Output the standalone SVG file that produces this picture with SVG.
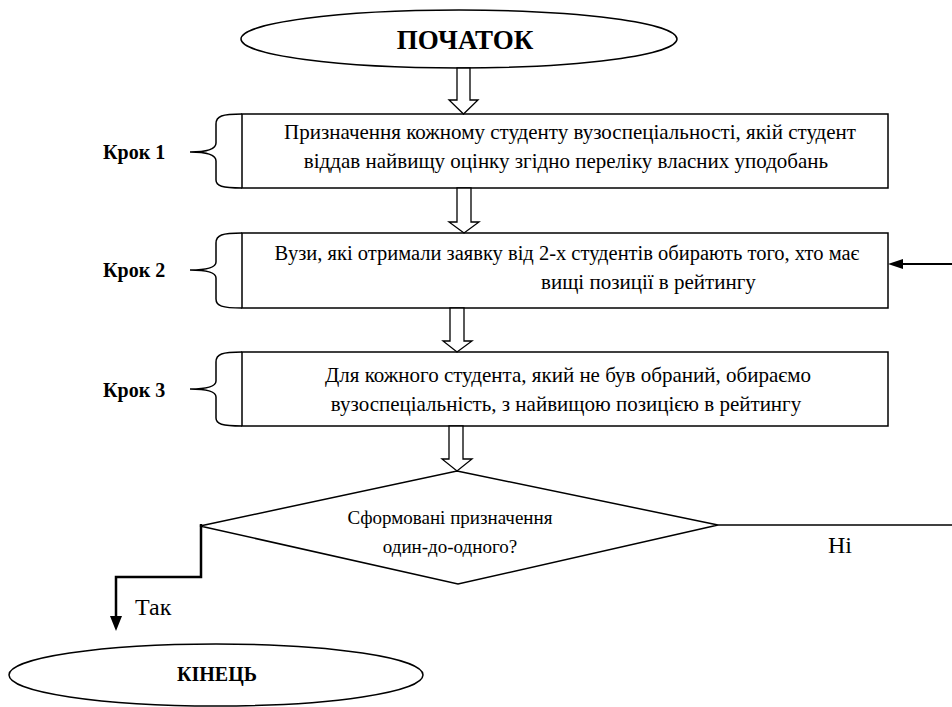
<svg xmlns="http://www.w3.org/2000/svg" width="952" height="707" viewBox="0 0 952 707">
<g id="start" stroke="#000" stroke-width="1.5" fill="#fff">
<ellipse cx="459" cy="39" rx="218" ry="29"/>
<text font-family="Liberation Serif" font-size="27" font-weight="bold" fill="#000" stroke="none" text-anchor="middle" x="465" y="49">ПОЧАТОК</text>
</g>
<g id="step1" stroke="#000" stroke-width="1.5" fill="#fff">
<path fill="none" d="M242,114 C222,114 216,116 216,124 L216,143 C216,150 205,152 190,152 C205,152 216,154 216,161 L216,180 C216,186 222,188 242,188"/>
<rect x="242" y="114" width="646" height="74"/>
<text font-family="Liberation Serif" font-size="20" font-weight="bold" fill="#000" stroke="none" x="103" y="159">Крок 1</text>
<text font-family="Liberation Serif" font-size="21" fill="#000" stroke="none" text-anchor="middle" x="570" y="139">Призначення кожному студенту вузоспеціальності, якій студент</text>
<text font-family="Liberation Serif" font-size="21" fill="#000" stroke="none" text-anchor="middle" x="566" y="168">віддав найвищу оцінку згідно переліку власних уподобань</text>
</g>
<g id="step2" stroke="#000" stroke-width="1.5" fill="#fff">
<path fill="none" d="M242,233 C222,233 216,235 216,243 L216,262 C216,268 205,270 190,270 C205,270 216,272 216,278 L216,299 C216,306 222,308 242,308"/>
<rect x="242" y="233" width="646" height="75"/>
<text font-family="Liberation Serif" font-size="20" font-weight="bold" fill="#000" stroke="none" x="103" y="277">Крок 2</text>
<text font-family="Liberation Serif" font-size="20.5" fill="#000" stroke="none" text-anchor="middle" x="567" y="260">Вузи, які отримали заявку від 2-х студентів обирають того, хто має</text>
<text font-family="Liberation Serif" font-size="21" fill="#000" stroke="none" x="541" y="289">вищі позиції в рейтингу</text>
</g>
<g id="step3" stroke="#000" stroke-width="1.5" fill="#fff">
<path fill="none" d="M242,352 C222,352 216,354 216,362 L216,381 C216,387 205,389 190,389 C205,389 216,391 216,397 L216,418 C216,424 222,426 242,426"/>
<rect x="242" y="352" width="646" height="74"/>
<text font-family="Liberation Serif" font-size="20" font-weight="bold" fill="#000" stroke="none" x="103" y="397">Крок 3</text>
<text font-family="Liberation Serif" font-size="21" fill="#000" stroke="none" text-anchor="middle" x="568" y="382">Для кожного студента, який не був обраний, обираємо</text>
<text font-family="Liberation Serif" font-size="21" fill="#000" stroke="none" text-anchor="middle" x="566" y="411">вузоспеціальність, з найвищою позицією в рейтингу</text>
</g>
<g id="decision" stroke="#000" stroke-width="1.5" fill="#fff">
<polygon points="457,471 718,525 458,584 200,526"/>
<text font-family="Liberation Serif" font-size="19" fill="#000" stroke="none" text-anchor="middle" x="450" y="524">Сформовані призначення</text>
<text font-family="Liberation Serif" font-size="19" fill="#000" stroke="none" text-anchor="middle" x="450" y="553">один-до-одного?</text>
</g>
<g id="end" stroke="#000" stroke-width="1.5" fill="#fff">
<ellipse cx="216" cy="675" rx="207" ry="31"/>
<text font-family="Liberation Serif" font-size="20" font-weight="bold" fill="#000" stroke="none" text-anchor="middle" x="217" y="681">КІНЕЦЬ</text>
</g>
<g id="connectors" stroke="#000" fill="#fff">
<g stroke-width="1.3">
<polygon points="457,68 470,68 470,100 478,100 463.5,114 449,100 457,100"/>
<polygon points="457,188 471,188 471,222 479,222 464,233 449,222 457,222"/>
<polygon points="450,308 464,308 464,341 472,341 457,352 443,341 450,341"/>
<polygon points="449,426 463,426 463,459 472,459 457,471 442,459 449,459"/>
</g>
<line x1="718" y1="525" x2="952" y2="525" stroke-width="1.5"/>
<line x1="952" y1="264" x2="900" y2="264" stroke-width="2.2"/>
<polygon points="888,264 903,259 903,269" fill="#000" stroke="none"/>
<path fill="none" stroke-width="2.5" d="M201,524 V577 H116 V618"/>
<polygon points="116,631 110,616 122,616" fill="#000" stroke="none"/>
<text font-family="Liberation Serif" font-size="24" fill="#000" stroke="none" x="828" y="553">Ні</text>
<text font-family="Liberation Serif" font-size="24" fill="#000" stroke="none" x="135" y="615">Так</text>
</g>
</svg>
